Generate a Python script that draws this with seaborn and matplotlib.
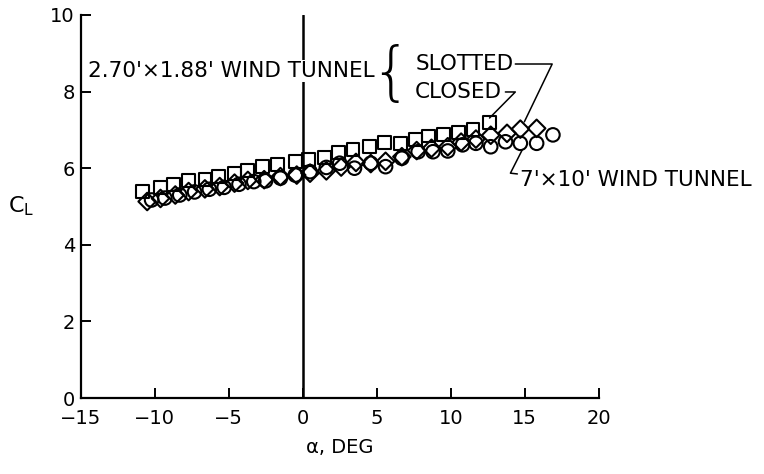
import matplotlib
matplotlib.use("Agg")
import matplotlib.pyplot as plt
import seaborn as sns
import pandas as pd

# ---- data ----
slotted_alpha = [-10.8, -9.6, -8.7, -7.7, -6.6, -5.7, -4.6, -3.7, -2.7, -1.7, -0.5, 0.4,
                 1.5, 2.4, 3.4, 4.5, 5.5, 6.6, 7.6, 8.5, 9.5, 10.5, 11.5, 12.6]
slotted_cl = [5.39, 5.50, 5.58, 5.67, 5.71, 5.78, 5.87, 5.95, 6.04, 6.10, 6.17, 6.23,
              6.27, 6.41, 6.48, 6.56, 6.68, 6.65, 6.75, 6.84, 6.87, 6.93, 7.00, 7.19]

closed_alpha = [-10.5, -9.6, -8.6, -7.7, -6.6, -5.6, -4.6, -3.7, -2.6, -1.5, -0.4, 0.5, 1.6,
                2.6, 3.6, 4.6, 5.6, 6.7, 7.7, 8.7, 9.8, 10.7, 11.7, 12.7, 13.8, 14.7, 15.8]
closed_cl = [5.13, 5.21, 5.30, 5.39, 5.46, 5.52, 5.61, 5.68, 5.70, 5.78, 5.82, 5.87, 5.93,
             6.03, 6.15, 6.12, 6.18, 6.30, 6.46, 6.52, 6.56, 6.68, 6.76, 6.86, 6.91, 7.02, 7.04]

tunnel7x10_alpha = [-10.2, -9.3, -8.3, -7.3, -6.3, -5.3, -4.3, -3.3, -2.5, -1.5, -0.5, 0.5, 1.6,
                    2.5, 3.5, 4.6, 5.6, 6.7, 7.8, 8.8, 9.8, 10.8, 11.7, 12.7, 13.7, 14.7, 15.8, 16.9]
tunnel7x10_cl = [5.17, 5.22, 5.30, 5.38, 5.45, 5.50, 5.58, 5.65, 5.67, 5.74, 5.82, 5.91, 6.02,
                 6.13, 6.00, 6.13, 6.04, 6.26, 6.43, 6.43, 6.45, 6.61, 6.65, 6.56, 6.69, 6.65, 6.65, 6.87]

x_ticks = [-15, -10, -5, 0, 5, 10, 15, 20]
x_tick_labels = ["\u221215", "\u221210", "\u22125", "0", "5", "10", "15", "20"]
y_ticks = [0, 2, 4, 6, 8, 10]

df_slot = pd.DataFrame({"alpha": slotted_alpha, "CL": slotted_cl})
df_closed = pd.DataFrame({"alpha": closed_alpha, "CL": closed_cl})
df_7x10 = pd.DataFrame({"alpha": tunnel7x10_alpha, "CL": tunnel7x10_cl})

sns.set_style("ticks", {"text.color": "black", "axes.labelcolor": "black",
                        "xtick.color": "black", "ytick.color": "black",
                        "axes.edgecolor": "black"})
plt.rcParams["font.family"] = ["DejaVu Sans"]

fig = plt.figure(figsize=(7.64, 4.74), dpi=100)
ax = fig.add_axes([0.1054, 0.1603, 0.6784, 0.8081])

mk = dict(facecolor="none", edgecolor="black", linewidth=1.5, zorder=3, legend=False)
sns.scatterplot(data=df_7x10, x="alpha", y="CL", marker="o", s=95, ax=ax, **mk)
sns.scatterplot(data=df_closed, x="alpha", y="CL", marker="D", s=80, ax=ax, **mk)
sns.scatterplot(data=df_slot, x="alpha", y="CL", marker="s", s=85, ax=ax, **mk)

ax.axvline(0, color="black", linewidth=1.8, zorder=1)

ax.set_xlim(-15, 20)
ax.set_ylim(0, 10)
ax.set_xticks(x_ticks)
ax.set_xticklabels(x_tick_labels)
ax.set_yticks(y_ticks)
ax.tick_params(direction="in", length=7, width=1.4, labelsize=14, colors="black")
ax.tick_params(axis="x", pad=8)
ax.tick_params(axis="y", pad=4)

for s in ["top", "right"]:
    ax.spines[s].set_visible(False)
for s in ["left", "bottom"]:
    ax.spines[s].set_linewidth(1.6)
    ax.spines[s].set_color("black")

ax.set_xlabel("\u03b1, DEG", fontsize=14, labelpad=7)
ax.set_ylabel(r"C$_\mathregular{L}$", fontsize=16, rotation=0, ha="center", va="center")
ax.yaxis.set_label_coords(-0.115, 0.5)

fs = 15.5
ax.text(-14.5, 8.54, "2.70'\u00d71.88' WIND TUNNEL", fontsize=fs, va="center", ha="left",
        bbox=dict(facecolor="white", edgecolor="none", pad=1.0), zorder=2)
ax.text(7.6, 8.71, "SLOTTED", fontsize=fs, va="center", ha="left")
ax.text(7.6, 8.0, "CLOSED", fontsize=fs, va="center", ha="left")
ax.text(7.3, 8.43, "{", fontsize=46, va="center", ha="right", fontweight=200,
        fontfamily="DejaVu Sans")
ax.text(14.65, 5.70, "7'\u00d710' WIND TUNNEL", fontsize=fs, va="center", ha="left")

lk = dict(color="black", linewidth=1.1, clip_on=False)
ax.plot([14.36, 16.85, 14.97], [8.72, 8.72, 7.21], **lk)
ax.plot([13.69, 14.36, 12.62], [7.99, 7.99, 7.31], **lk)
ax.plot([14.83, 14.03, 14.50], [6.48, 5.87, 5.85], **lk)

fig.savefig("out.png", dpi=100)
